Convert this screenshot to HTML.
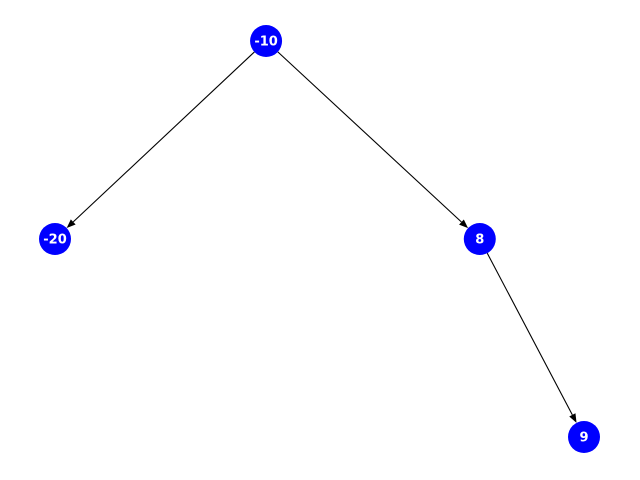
<!DOCTYPE html>
<html><head><meta charset="utf-8"><style>
html,body{margin:0;padding:0;background:#fff;}
svg{display:block;}
</style></head><body>
<svg id="chart" width="640" height="480"></svg>
<script>
const nodeLabels = ["-10", "-20", "8", "9"];
const nodeX = [0.399, 0.0, 0.803, 1.0];
const nodeDepth = [0, 1, 1, 2];
const edgeFrom = [0, 0, 2];
const edgeTo = [1, 2, 3];

const NS = "http://www.w3.org/2000/svg";
const svg = document.getElementById("chart");
const xScale = v => 55 + v * 529;
const yScale = d => 41 + d * 198;
const R = 16;

for (let i = 0; i < edgeFrom.length; i++) {
  const a = edgeFrom[i], b = edgeTo[i];
  const x1 = xScale(nodeX[a]), y1 = yScale(nodeDepth[a]);
  const x2 = xScale(nodeX[b]), y2 = yScale(nodeDepth[b]);
  const dx = x2 - x1, dy = y2 - y1, L = Math.hypot(dx, dy);
  const ux = dx / L, uy = dy / L;
  const sx = x1 + ux * R, sy = y1 + uy * R;
  const ex = x2 - ux * R, ey = y2 - uy * R;
  const hl = 9, hw = 3.5;
  const bx = ex - ux * hl, by = ey - uy * hl;
  const g = document.createElementNS(NS, "g");
  
  
  const line = document.createElementNS(NS, "line");
  line.setAttribute("x1", sx); line.setAttribute("y1", sy);
  line.setAttribute("x2", bx); line.setAttribute("y2", by);
  line.setAttribute("stroke", "#000"); line.setAttribute("stroke-width", "1.1");
  g.appendChild(line);
  const head = document.createElementNS(NS, "polygon");
  head.setAttribute("points", `${ex},${ey} ${bx - uy * hw},${by + ux * hw} ${bx + uy * hw},${by - ux * hw}`);
  head.setAttribute("fill", "#000");
  g.appendChild(head);
  svg.appendChild(g);
}

for (let i = 0; i < nodeLabels.length; i++) {
  const cx = xScale(nodeX[i]), cy = yScale(nodeDepth[i]);
  const g = document.createElementNS(NS, "g");
  
  
  const c = document.createElementNS(NS, "circle");
  c.setAttribute("cx", cx); c.setAttribute("cy", cy); c.setAttribute("r", R);
  c.setAttribute("fill", "#0000ff");
  g.appendChild(c);
  const t = document.createElementNS(NS, "text");
  t.setAttribute("x", cx); t.setAttribute("y", cy + 4.5);
  t.setAttribute("text-anchor", "middle");
  t.setAttribute("font-family", "DejaVu Sans, Liberation Sans, sans-serif");
  t.setAttribute("font-weight", "bold");
  t.setAttribute("font-size", "13");
  t.setAttribute("fill", "#fff");
  t.textContent = nodeLabels[i];
  g.appendChild(t);
  svg.appendChild(g);
}
</script>
</body></html>
